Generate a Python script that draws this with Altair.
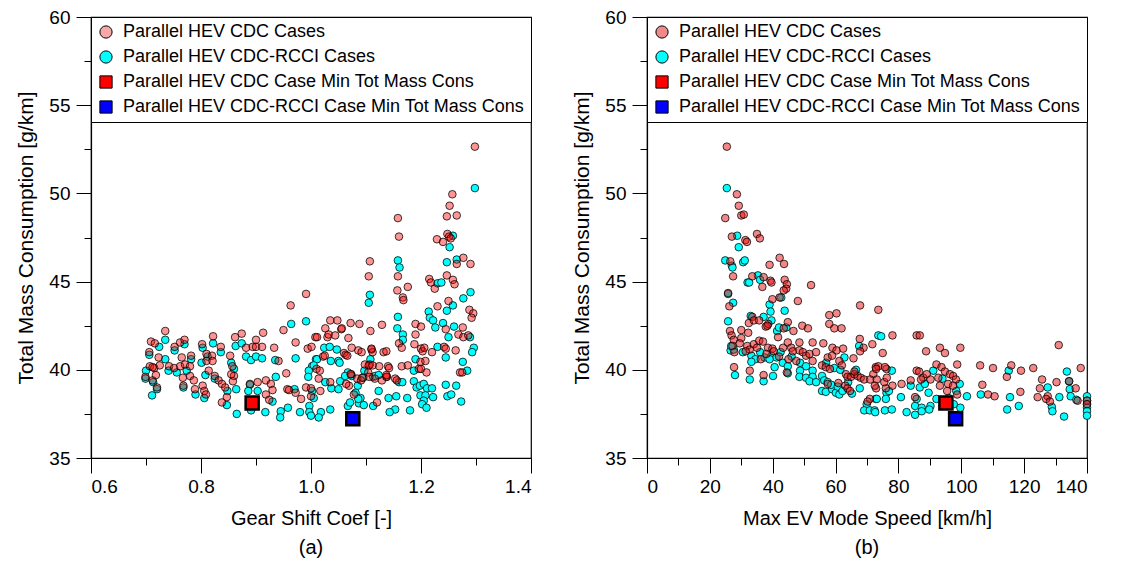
import altair as alt
import pandas as pd

FONT = "Liberation Sans"

S_CDC = "Parallel HEV CDC Cases"
S_RCCI = "Parallel HEV CDC-RCCI Cases"
S_CDC_MIN = "Parallel HEV CDC Case Min Tot Mass Cons"
S_RCCI_MIN = "Parallel HEV CDC-RCCI Case Min Tot Mass Cons"
SERIES = [S_CDC, S_RCCI, S_CDC_MIN, S_RCCI_MIN]

# (gear shift coef, total mass consumption) for the CDC cases
cdc_gear = [
    (0.735, 42.2), (0.709, 41.6), (0.716, 41.5), (0.706, 41.0), (0.723, 40.7), (0.707, 40.2),
    (0.715, 40.1), (0.712, 40.15), (0.725, 40.25), (0.699, 39.6), (0.712, 39.4), (0.718, 39.7),
    (0.72, 39.0), (0.752, 41.3), (0.762, 41.55), (0.77, 41.7), (0.782, 40.8), (0.765, 40.7),
    (0.742, 40.2), (0.751, 40.1), (0.762, 40.2), (0.771, 40.3), (0.78, 40.2), (0.767, 39.55),
    (0.78, 39.65), (0.787, 39.4), (0.768, 39.1), (0.789, 38.9), (0.802, 41.45), (0.822, 41.9),
    (0.836, 41.3), (0.81, 40.9), (0.82, 40.8), (0.81, 40.5), (0.821, 40.5), (0.814, 39.95),
    (0.825, 39.65), (0.803, 39.1), (0.806, 38.8), (0.809, 38.6), (0.832, 39.4), (0.838, 39.2),
    (0.844, 39.0), (0.847, 38.45), (0.838, 38.15), (0.853, 40.8), (0.862, 41.85), (0.874, 42.05),
    (0.857, 40.2), (0.86, 39.65), (0.858, 39.35), (0.855, 39.75), (0.882, 41.25), (0.9, 41.7),
    (0.894, 41.3), (0.9, 41.3), (0.911, 41.3), (0.913, 42.1), (0.889, 39.2), (0.903, 39.3),
    (0.918, 39.4), (0.927, 39.2), (0.93, 38.85), (0.918, 38.6), (0.933, 41.25), (0.941, 40.5),
    (0.924, 38.3), (0.95, 42.25), (0.963, 43.65), (0.972, 41.55), (0.991, 44.3), (0.994, 41.2),
    (1.001, 41.3), (1.008, 41.85), (0.955, 39.8), (0.957, 38.9), (0.96, 38.85), (0.972, 38.7),
    (0.982, 38.35), (0.991, 39.0), (1.0, 38.95), (1.0, 38.5), (1.01, 40.05),
    (1.107, 46.15), (1.105, 45.3), (1.158, 45.3), (1.176, 44.7), (1.157, 44.5), (1.167, 44.1),
    (1.168, 43.95), (1.19, 42.6), (1.2, 42.45), (1.215, 45.15), (1.218, 44.95), (1.247, 45.35),
    (1.258, 45.1), (1.261, 44.85), (1.265, 46.0), (1.277, 46.35), (1.29, 46.0), (1.225, 44.6),
    (1.25, 43.9), (1.23, 43.6), (1.288, 43.4), (1.295, 43.2), (1.292, 42.95), (1.245, 42.3),
    (1.276, 42.4), (1.268, 42.0), (1.277, 41.85), (1.286, 41.95), (1.19, 42.0), (1.188, 41.45),
    (1.16, 41.5), (1.165, 41.25), (1.2, 41.2), (1.203, 41.05), (1.206, 41.25), (1.242, 41.3),
    (1.245, 41.2), (1.263, 41.1), (1.22, 41.0), (1.199, 40.45), (1.196, 40.05), (1.2, 40.05),
    (1.208, 40.5), (1.271, 39.85), (1.275, 39.85), (1.21, 39.85), (1.165, 40.2), (1.176, 40.25),
    (1.153, 39.5), (1.156, 39.4), (1.138, 39.6), (1.14, 40.2), (1.142, 40.1), (1.124, 40.2),
    (1.129, 42.55), (1.108, 42.2), (1.11, 41.15), (1.112, 41.0), (1.132, 41.0), (1.137, 41.05),
    (1.107, 40.3), (1.116, 39.5), (1.098, 40.3), (1.129, 39.4), (1.137, 39.6), (1.12, 38.15),
    (1.078, 38.6), (1.084, 39.5), (1.091, 39.4), (1.073, 39.75), (1.072, 39.75), (1.069, 39.1),
    (1.072, 42.65), (1.088, 42.6), (1.055, 42.3), (1.056, 42.35), (1.048, 42.8), (1.035, 42.8),
    (1.026, 42.35), (1.011, 41.85), (1.03, 41.85), (1.032, 42.0), (1.044, 41.95), (1.068, 41.8),
    (1.074, 41.25), (1.086, 41.1), (1.092, 41.0), (1.11, 41.2), (1.06, 40.95), (1.063, 40.85),
    (1.066, 40.8), (1.022, 40.75), (1.025, 40.8), (1.016, 39.95), (1.014, 39.5), (1.035, 39.3),
    (1.017, 38.8), (1.064, 39.2), (1.104, 39.85), (1.106, 39.6), (1.093, 39.55), (1.105, 40.25),
    (1.112, 40.25), (1.137, 39.7),
    (1.298, 52.65), (1.257, 49.95), (1.252, 49.3), (1.247, 48.7), (1.265, 48.75), (1.158, 48.6),
    (1.16, 47.55), (1.248, 47.7), (1.251, 47.55), (1.229, 47.4), (1.24, 47.25), (1.254, 47.45),
]

# (gear shift coef, total mass consumption) for the CDC-RCCI cases
rcci_gear = [
    (0.735, 41.7), (0.724, 41.3), (0.706, 40.85), (0.735, 40.6), (0.7, 39.95), (0.699, 39.5),
    (0.713, 39.3), (0.72, 38.9), (0.711, 38.55), (0.752, 41.1), (0.77, 41.45), (0.782, 40.6),
    (0.741, 39.95), (0.756, 39.85), (0.774, 39.95), (0.768, 39.0), (0.79, 38.6), (0.803, 41.25),
    (0.822, 41.5), (0.836, 41.0), (0.812, 40.75), (0.801, 40.4), (0.808, 39.7), (0.825, 39.5),
    (0.806, 38.4), (0.848, 38.8), (0.847, 38.0), (0.865, 37.5), (0.855, 40.4), (0.863, 41.35),
    (0.874, 41.5), (0.86, 40.05), (0.864, 38.9), (0.882, 40.75), (0.891, 40.55), (0.9, 40.75),
    (0.911, 40.65), (0.889, 39.15), (0.886, 38.8), (0.903, 38.8), (0.891, 37.7), (0.917, 37.6),
    (0.935, 40.55), (0.936, 39.6), (0.93, 38.2), (0.945, 37.65), (0.944, 37.3), (0.958, 37.85),
    (0.964, 42.6), (0.972, 40.65), (0.991, 42.75), (1.009, 40.6), (1.002, 40.2), (0.996, 39.95),
    (0.995, 39.6), (0.98, 37.6), (0.997, 37.95), (0.997, 37.6), (1.0, 37.4), (0.97, 38.9),
    (1.107, 44.25), (1.105, 43.8), (1.158, 46.2), (1.161, 45.8), (1.23, 44.9), (1.237, 44.95),
    (1.247, 46.1), (1.265, 46.25), (1.29, 44.4), (1.277, 44.05), (1.258, 43.65), (1.247, 43.35),
    (1.214, 43.3), (1.216, 42.95), (1.222, 42.8), (1.158, 43.0), (1.157, 42.35), (1.167, 42.0),
    (1.167, 41.7), (1.24, 42.65), (1.26, 42.45), (1.289, 41.85), (1.226, 42.4), (1.25, 41.85),
    (1.23, 41.3), (1.296, 41.25), (1.293, 41.0), (1.245, 40.7), (1.19, 40.6), (1.187, 39.95),
    (1.276, 40.45), (1.284, 39.95), (1.187, 39.35), (1.192, 39.0), (1.198, 39.1), (1.205, 39.2),
    (1.199, 38.55), (1.211, 38.95), (1.22, 38.95), (1.208, 38.55), (1.205, 38.25), (1.202, 38.05),
    (1.21, 37.85), (1.222, 38.45), (1.245, 39.15), (1.264, 39.1), (1.248, 38.5), (1.255, 38.6),
    (1.273, 38.2), (1.175, 38.4), (1.155, 38.5), (1.141, 38.4), (1.153, 37.75), (1.143, 37.6),
    (1.18, 37.7), (1.16, 39.3), (1.166, 39.3), (1.123, 38.8), (1.113, 37.95), (1.108, 40.6),
    (1.113, 39.6), (1.097, 39.95), (1.067, 37.95), (1.071, 38.15), (1.087, 38.1), (1.09, 38.4),
    (1.096, 38.0), (1.067, 39.85), (1.081, 38.7), (1.086, 38.35), (1.024, 41.25), (1.034, 41.3),
    (1.047, 41.15), (1.011, 40.6), (1.036, 40.5), (1.05, 40.5), (1.052, 40.4), (1.005, 40.25),
    (1.026, 39.3), (1.037, 38.95), (1.053, 39.35), (1.062, 39.65), (1.074, 39.65), (1.002, 38.8),
    (1.005, 38.4), (1.018, 37.6), (1.014, 37.3), (1.035, 37.75), (1.05, 38.9), (1.117, 39.65),
    (1.123, 39.7), (1.095, 39.55), (1.085, 39.1),
    (1.298, 50.3), (1.252, 46.95), (1.258, 47.6),
]

# (max EV mode speed, total mass consumption) for the CDC cases
cdc_speed = [
    (25.4, 52.65), (28.6, 49.95), (29.2, 49.3), (24.9, 48.6), (30.0, 48.75), (30.8, 48.8),
    (27.0, 47.55), (31.3, 47.35), (31.8, 47.25), (35.0, 47.7), (35.9, 47.45), (26.5, 46.15),
    (42.2, 46.35), (43.6, 46.0), (39.0, 45.95),
    (27.4, 45.3), (33.5, 45.3), (37.1, 45.25), (39.3, 45.05), (39.6, 44.95), (36.7, 44.7),
    (43.8, 45.1), (44.5, 44.85), (44.3, 44.6), (43.5, 44.5), (42.2, 44.1), (52.2, 44.8),
    (25.8, 44.35), (26.2, 43.6), (39.9, 44.0), (48.0, 43.9), (26.4, 42.2), (30.0, 42.25),
    (32.2, 42.1), (32.4, 42.65), (33.5, 43.0), (34.0, 42.8), (35.7, 42.8), (37.8, 42.45),
    (38.6, 42.6), (38.3, 42.5), (43.5, 42.35), (44.8, 42.7), (46.6, 42.2), (49.4, 42.5),
    (51.2, 42.35), (58.0, 43.1), (58.0, 42.6), (60.3, 43.2), (59.6, 42.35), (61.9, 42.35),
    (67.8, 43.65),
    (26.9, 41.95), (27.6, 41.7), (27.2, 41.35), (27.8, 41.0), (30.0, 41.8), (29.5, 41.5),
    (31.9, 41.35), (32.7, 41.15), (31.4, 41.05), (34.0, 41.45), (35.0, 41.25), (35.7, 41.65),
    (36.9, 41.6), (38.5, 41.25), (39.9, 41.2), (40.3, 41.05), (41.7, 41.85), (43.3, 41.25),
    (44.8, 41.55), (45.9, 41.25), (46.4, 41.05), (47.5, 40.5), (48.5, 41.1), (49.6, 41.0),
    (50.6, 40.8), (51.7, 40.9), (52.7, 40.5), (48.5, 41.55), (52.7, 41.55), (53.8, 41.0),
    (56.1, 41.5), (44.5, 39.85), (32.7, 39.95), (37.1, 39.7), (27.7, 40.15), (36.2, 40.6),
    (38.0, 40.9), (42.0, 40.75), (45.0, 40.6),
    (59.0, 41.25), (60.3, 41.1), (62.4, 41.2), (57.5, 40.7), (58.9, 40.8), (61.2, 40.5),
    (62.0, 40.25), (63.3, 39.75), (63.8, 39.6), (64.9, 39.6), (66.0, 39.75), (67.0, 39.65),
    (68.0, 39.55), (69.1, 39.45), (55.7, 40.25), (56.9, 40.15), (58.2, 40.05), (57.5, 39.2),
    (60.9, 39.25), (63.1, 39.1), (63.8, 38.95), (64.6, 38.8), (65.7, 40.65), (67.7, 41.75),
    (68.9, 41.25), (67.8, 41.05), (71.7, 41.45), (66.0, 39.9), (70.9, 38.35), (70.2, 38.2),
    (72.0, 39.75), (72.8, 40.15), (73.6, 40.2), (73.6, 43.4),
    (75.0, 40.95), (78.1, 41.95), (85.8, 41.95), (86.8, 41.95), (88.8, 41.05), (93.2, 41.25),
    (94.8, 40.95), (99.7, 41.25), (98.7, 40.3), (92.1, 40.3), (85.8, 39.95), (86.6, 39.9),
    (87.9, 39.55), (89.0, 39.75), (90.2, 39.45), (87.2, 39.45), (93.7, 40.15), (94.8, 39.9),
    (96.4, 39.75), (97.4, 39.65), (98.3, 39.45), (95.8, 39.2), (97.4, 39.1), (98.7, 38.6),
    (95.5, 38.8), (93.2, 39.1), (92.7, 39.55), (81.0, 39.2), (83.9, 39.4), (85.3, 38.45),
    (71.0, 39.45), (73.1, 39.45), (72.9, 38.95), (76.0, 38.95), (72.9, 40.05), (76.2, 40.05),
    (75.7, 40.15), (78.1, 39.1), (75.5, 39.3), (76.3, 39.55), (72.5, 39.1), (106.0, 40.25),
    (106.7, 39.15), (108.5, 38.6), (110.1, 40.1), (110.6, 38.5), (115.9, 40.25), (114.5, 39.6),
    (119.0, 39.95), (118.8, 38.75), (122.9, 40.1), (125.7, 39.45), (125.0, 38.95), (124.3, 38.45),
    (127.5, 38.5), (127.0, 38.35), (128.2, 38.2), (131.0, 41.4), (130.3, 39.3), (136.4, 38.95),
    (138.0, 40.1), (137.0, 38.25), (134.3, 39.35), (140.0, 38.25), (140.0, 38.05),
]

# (max EV mode speed, total mass consumption) for the CDC-RCCI cases
rcci_speed = [
    (25.4, 50.3), (28.7, 47.6), (29.2, 46.95), (24.9, 46.2), (27.0, 45.9), (30.6, 46.1),
    (31.1, 46.2), (27.2, 45.8), (35.3, 45.35), (36.0, 45.1), (32.0, 44.95), (32.5, 44.95),
    (25.8, 44.3), (27.4, 43.8), (42.7, 44.1), (39.0, 43.7), (39.3, 43.3), (43.8, 43.35),
    (25.8, 42.75), (33.0, 43.05), (37.1, 43.0), (39.6, 42.8), (41.4, 42.2), (42.0, 42.4),
    (44.3, 42.4), (26.6, 41.1), (27.6, 41.15), (33.2, 40.8), (34.5, 40.6), (33.2, 40.45),
    (39.6, 40.8), (41.2, 40.7), (43.2, 40.4), (44.8, 40.2), (46.0, 40.75), (37.4, 40.7),
    (39.0, 40.6), (40.6, 40.15), (40.1, 39.65), (48.7, 40.4), (50.6, 40.2), (52.7, 39.95),
    (48.7, 39.95), (48.5, 39.6), (50.6, 39.55), (52.7, 39.6), (51.7, 39.35), (53.8, 39.3),
    (44.8, 39.8), (32.7, 39.45), (37.1, 39.35), (28.0, 39.7), (26.8, 41.35), (30.5, 41.0),
    (36.0, 41.0), (42.5, 41.0),
    (55.7, 39.65), (56.4, 39.4), (57.5, 39.3), (55.7, 38.8), (56.9, 38.75), (58.9, 38.9),
    (60.1, 38.7), (61.2, 38.6), (58.6, 39.15), (60.7, 39.05), (62.2, 38.8), (65.2, 38.65),
    (67.7, 38.95), (67.5, 41.35), (69.9, 38.05), (69.1, 37.7), (70.9, 37.7), (72.4, 37.7),
    (72.8, 38.35), (73.6, 41.95), (59.6, 40.1), (61.5, 40.0), (64.0, 39.3), (57.0, 40.4),
    (62.8, 40.7), (66.5, 40.0),
    (74.5, 41.9), (73.1, 38.35), (76.2, 38.7), (76.0, 38.35), (72.6, 37.6), (75.7, 37.7),
    (77.9, 37.75), (77.0, 38.8), (77.9, 39.95), (91.1, 39.95), (92.1, 38.35), (99.5, 39.2),
    (101.8, 38.5), (99.7, 37.85), (85.3, 37.95), (87.4, 37.85), (90.2, 37.95), (82.6, 37.6),
    (85.3, 37.45), (87.4, 37.65), (89.8, 37.75), (80.8, 38.45), (83.9, 39.1), (85.8, 38.35),
    (86.8, 39.0), (88.4, 39.2), (89.6, 38.7), (96.0, 38.4), (97.6, 38.05), (98.4, 38.8),
    (94.0, 39.5), (106.2, 38.6), (115.1, 39.95), (115.5, 38.45), (118.3, 37.95), (114.6, 37.75),
    (127.5, 39.0), (128.8, 37.9), (129.0, 37.65), (133.6, 39.9), (134.3, 39.35), (134.5, 38.9),
    (134.8, 38.5), (131.2, 38.45), (132.7, 37.35), (136.6, 38.3), (140.0, 38.5), (140.0, 38.25),
    (140.0, 38.05), (140.0, 37.85), (140.0, 37.65), (140.0, 37.4),
]

# minimum total mass consumption cases: (gear shift coef, max EV speed, consumption)
cdc_min = [(0.893, 95.1, 38.12)]
rcci_min = [(1.076, 98.2, 37.23)]

Y_TICKS = [35 + 2.5 * i for i in range(11)]
GEAR_TICKS = [round(0.6 + 0.1 * i, 1) for i in range(9)]
SPEED_TICKS = [10 * i for i in range(15)]


def frame(pairs, series):
    return pd.DataFrame({"x": [p[0] for p in pairs], "y": [p[1] for p in pairs],
                         "series": series})


def panel(cdc_pts, rcci_pts, min_pts, xaxis, xdomain, tag, red, red_op, pink_key):
    squares = pd.concat([frame(min_pts[0], S_CDC_MIN), frame(min_pts[1], S_RCCI_MIN)],
                        ignore_index=True)

    legend = alt.Legend(
        title=None, orient="top-left", offset=0, padding=6, rowPadding=7,
        strokeColor="black", fillColor="white", cornerRadius=0,
        labelFont=FONT, labelFontSize=18, labelColor="black", labelLimit=1000,
        labelOffset=8, symbolSize=150, symbolStrokeColor="black", symbolStrokeWidth=1,
    )
    color = alt.Color("series:N", legend=legend,
                      scale=alt.Scale(domain=SERIES,
                                      range=[pink_key, "#00FFFF", "#FF0000", "#0000FF"]))
    shape = alt.Shape("series:N", legend=legend,
                      scale=alt.Scale(domain=SERIES, range=["circle", "circle", "square", "square"]))

    x = alt.X("x:Q", scale=alt.Scale(domain=xdomain, nice=False, zero=False), axis=xaxis)
    y = alt.Y("y:Q", scale=alt.Scale(domain=[35, 60], nice=False, zero=False),
              axis=alt.Axis(
                  title="Total Mass Consumption [g/km]", values=Y_TICKS, grid=False,
                  labelExpr="datum.value % 5 === 0 ? datum.label : ''",
                  tickSize={"condition": {"test": "datum.value % 5 === 0", "value": 15}, "value": 7},
                  labelFontSize=19, labelPadding=6, titleFontSize=21, titlePadding=12,
                  titleFontWeight="normal",
              ))

    # CDC-RCCI circles underneath, opaque cyan
    cyan = alt.Chart(frame(rcci_pts, S_RCCI)).mark_point(
        filled=True, size=58, opacity=1, stroke="black", strokeWidth=0.9, strokeOpacity=0.85,
    ).encode(x=x, y=y, color=color, shape=shape)
    # CDC circles on top, translucent red so overlaps darken
    pink = alt.Chart(frame(cdc_pts, S_CDC)).mark_point(
        filled=True, shape="circle", size=58, opacity=1, fill=red, fillOpacity=red_op,
        stroke="black", strokeWidth=0.9, strokeOpacity=0.85,
    ).encode(x=x, y=y)
    mins = alt.Chart(squares).mark_point(
        filled=True, size=170, opacity=1, stroke="black", strokeWidth=2.5,
    ).encode(x=x, y=y, color=color, shape=shape)

    return alt.layer(cyan, pink, mins).properties(
        width=440, height=441,
        title=alt.TitleParams(tag, orient="bottom", anchor="middle", font=FONT,
                              fontSize=20, fontWeight="normal", offset=10, color="black"),
    )


gear_axis = alt.Axis(
    title="Gear Shift Coef [-]", values=GEAR_TICKS, format=".1f", grid=False,
    labelExpr="abs(datum.value * 5 - round(datum.value * 5)) < 1e-6 ? datum.label : ''",
    tickSize={"condition": {"test": "abs(datum.value * 5 - round(datum.value * 5)) < 1e-6",
                            "value": 15}, "value": 7},
    labelFontSize=19, labelPadding=4, titleFontSize=20, titlePadding=12,
    titleFontWeight="normal",
)
speed_axis = alt.Axis(
    title="Max EV Mode Speed [km/h]", values=SPEED_TICKS, grid=False,
    labelExpr="datum.value % 20 === 0 ? datum.label : ''",
    tickSize={"condition": {"test": "datum.value % 20 === 0", "value": 15}, "value": 7},
    labelFontSize=19, labelPadding=4, titleFontSize=20, titlePadding=12,
    titleFontWeight="normal",
)

left = panel(cdc_gear, rcci_gear,
             ([(p[0], p[2]) for p in cdc_min], [(p[0], p[2]) for p in rcci_min]),
             gear_axis, [0.6, 1.4], "(a)", "#FF0000", 0.42, "#F7A8A8")
right = panel(cdc_speed, rcci_speed,
              ([(p[1], p[2]) for p in cdc_min], [(p[1], p[2]) for p in rcci_min]),
              speed_axis, [0, 140], "(b)", "#E81010", 0.5, "#F08A8A")

chart = alt.hconcat(left, right, spacing=38).resolve_scale(
    color="independent", shape="independent",
).resolve_legend(
    color="independent", shape="independent",
).properties(
    padding={"left": 15, "top": 7, "right": 5, "bottom": 5},
    background="white",
).configure_view(
    stroke="black", strokeWidth=1.2,
).configure_axis(
    grid=False, domainColor="black", domainWidth=1.2, tickColor="black", tickWidth=1,
    labelColor="black", titleColor="black", labelFont=FONT, titleFont=FONT,
    titleFontWeight="normal",
)

chart.save("out.html", embed_options={"renderer": "svg", "actions": False})
